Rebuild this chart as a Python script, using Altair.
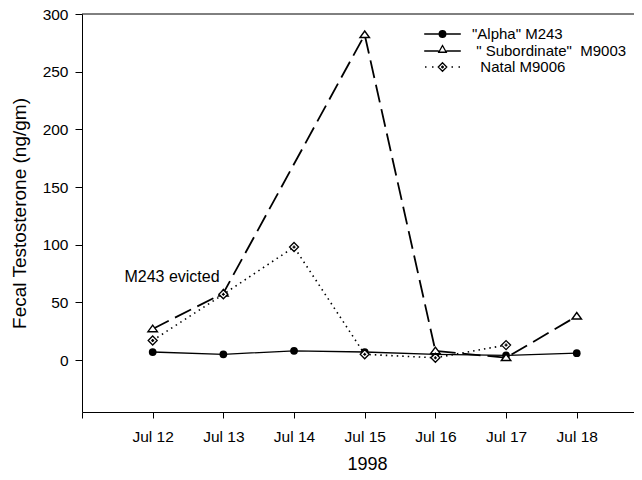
import altair as alt
import pandas as pd

# ---- data ----
days = [12, 13, 14, 15, 16, 17, 18]
alpha = [7, 5, 8, 7, 5, 4, 6]
subordinate = [27, 58, None, 282, 8, 2, 38]
natal = [17, 57, 98, 5, 2, 13, None]

series_names = [
    '"Alpha" M243',
    '\u200b\u00a0"\u00a0Subordinate"\u00a0\u00a0M9003',
    '\u200b\u00a0\u00a0Natal M9006',
]
x_tick_values = [11, 12, 13, 14, 15, 16, 17, 18]
y_tick_values = [0, 50, 100, 150, 200, 250, 300]
ann_x = [11.6]
ann_y = [72]
ann_text = ["M243 evicted"]
top_value = 300

rows = []
for name, vals in zip(series_names, [alpha, subordinate, natal]):
    for d, v in zip(days, vals):
        if v is not None:
            rows.append({"day": d, "value": v, "series": name})
df = pd.DataFrame(rows)

FONT = "Liberation Sans"

x = alt.X(
    "day:Q",
    scale=alt.Scale(domain=[11, 18.81], nice=False, zero=False),
    axis=alt.Axis(
        values=x_tick_values,
        labelExpr="datum.value == 11 ? '' : 'Jul ' + datum.value",
        tickSize=6, labelPadding=23, labelBaseline="alphabetic",
        labelFontSize=15.5, labelColor="black", labelFlush=False,
        domainColor="black", tickColor="black", grid=False,
        titleFontSize=18, titleFontWeight="normal", titleColor="black",
        titleX=285, titleY=57, titleBaseline="alphabetic", titleAlign="center",
    ),
    title="1998",
)
y = alt.Y(
    "value:Q",
    scale=alt.Scale(domain=[-45, 300], nice=False, zero=False),
    axis=alt.Axis(
        values=y_tick_values,
        tickSize=7, labelPadding=7, labelFontSize=15.5, labelColor="black",
        domainColor="black", tickColor="black", grid=False,
        titleFontSize=19, titleFontWeight="normal", titleColor="black",
        titleX=-57, titleY=199, titleAngle=270, titleBaseline="alphabetic",
        titleAlign="center",
    ),
    title="Fecal Testosterone (ng/gm)",
)


def one(series_idx):
    return alt.Chart(df).transform_filter(alt.datum.series == series_names[series_idx])


line_alpha = one(0).mark_line(color="black", strokeWidth=1.3).encode(x=x, y=y)
line_sub = one(1).mark_line(color="black", strokeWidth=1.8, strokeDash=[18, 7]).encode(x=x, y=y)
line_nat = one(2).mark_line(color="black", strokeWidth=1.6, strokeDash=[1.5, 4]).encode(x=x, y=y)

TRI = "M0,-0.75L0.95,0.55L-0.95,0.55Z"
DIA = "M0,-0.9L0.9,0L0,0.9L-0.9,0ZM-0.3,0L0.3,0M0,-0.3L0,0.3"

pts_alpha = one(0).mark_point(shape="circle", size=60, filled=True, color="black",
                              opacity=1).encode(x=x, y=y)
pts_sub = one(1).mark_point(shape=TRI, size=100, filled=True, fill="white", stroke="black",
                            strokeWidth=1.4, opacity=1).encode(x=x, y=y)
pts_nat = one(2).mark_point(shape=DIA, size=100, filled=True, fill="white", stroke="black",
                            strokeWidth=1.3, opacity=1).encode(x=x, y=y)


def circ(r):
    return f"M{r},0A{r},{r},0,1,1,{-r},0A{r},{r},0,1,1,{r},0Z"


LEG_PATHS = [
    "M-3.66,0L3.66,0" + circ(0.66) + circ(0.44) + circ(0.22) + "M-0.05,0L0.05,0",
    "M-3.66,0L-0.75,0M0.75,0L3.66,0M0,-1.1L0.75,0.25L-0.75,0.25Z",
    "M-3.5,0L-3.2,0M-2.1,0L-1.8,0M1.8,0L2.1,0M3.2,0L3.5,0"
    "M0,-0.85L0.85,0L0,0.85L-0.85,0ZM-0.3,0L0.3,0M0,-0.3L0,0.3",
]
leg_opts = alt.Legend(
    title=None, orient="none", legendX=353, legendY=12.5,
    symbolSize=100, symbolStrokeWidth=1.3, symbolStrokeColor="black",
    symbolFillColor="transparent",
    labelFontSize=15, labelColor="black", labelOffset=22, rowPadding=0,
    labelLimit=300, padding=0,
)
legend_layer = alt.Chart(df).mark_point(
    size=0, filled=False, color="black", strokeWidth=1.3, opacity=1
).encode(
    x=x, y=y,
    shape=alt.Shape("series:N", scale=alt.Scale(domain=series_names, range=LEG_PATHS),
                    legend=leg_opts),
)

ann = alt.Chart(pd.DataFrame({"day": ann_x, "value": ann_y, "text": ann_text})).mark_text(
    align="left", baseline="middle", fontSize=16, color="black"
).encode(x=x, y=y, text="text:N")

top_rule = alt.Chart(pd.DataFrame({"v": [top_value]})).mark_rule(
    color="black", strokeWidth=1
).encode(y=alt.datum(top_value))

chart = alt.layer(
    top_rule, line_alpha, line_sub, line_nat, pts_alpha, pts_sub, pts_nat, legend_layer, ann
).properties(
    width=552, height=398,
    padding={"left": 74, "top": 6, "right": 0, "bottom": 60},
    autosize="none",
).configure(font=FONT).configure_view(stroke=None)

chart.save("out.html", embed_options={"renderer": "svg", "actions": False})
